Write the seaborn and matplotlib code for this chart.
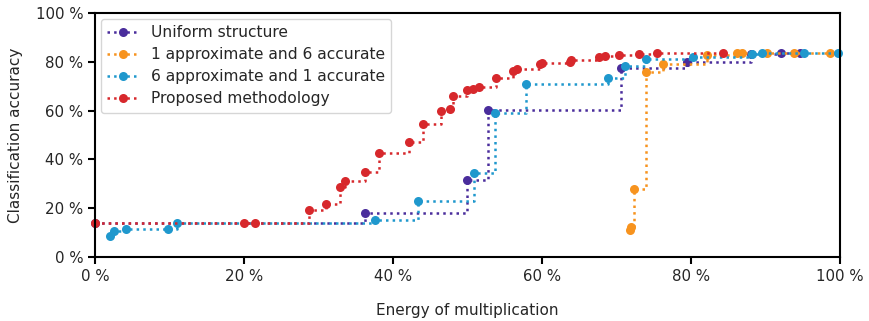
import numpy as np
import pandas as pd
import matplotlib
matplotlib.use("Agg")
import matplotlib.pyplot as plt
import seaborn as sns
from matplotlib.ticker import FuncFormatter

# data (energy %, accuracy %)
uniform_x = [0.0, 36.3, 49.9, 52.7, 70.6, 79.5, 88.0, 92.1, 94.7]
uniform_y = [13.8, 17.9, 31.6, 60.2, 77.3, 80.0, 83.2, 83.5, 83.5]

approx1_x = [71.8, 72.0, 72.4, 73.9, 76.2, 82.1, 86.2, 86.8, 90.2, 93.8, 98.7]
approx1_y = [11.1, 12.3, 27.8, 75.7, 79.1, 82.8, 83.5, 83.5, 83.5, 83.7, 83.7]

approx6_x = [2.0, 2.5, 4.1, 9.8, 11.0, 37.6, 43.3, 50.9, 53.7, 57.9, 68.9,
             71.2, 73.9, 80.3, 88.2, 89.5, 95.2, 99.8]
approx6_y = [8.7, 10.8, 11.5, 11.5, 13.8, 15.2, 22.9, 34.5, 58.9, 70.8, 73.2,
             78.4, 81.1, 82.1, 83.2, 83.5, 83.7, 83.7]

proposed_x = [0.0, 20.0, 21.5, 28.7, 31.0, 32.9, 33.6, 36.3, 38.1, 42.2, 44.0,
              46.5, 47.6, 48.0, 49.9, 50.7, 51.6, 53.8, 56.1, 56.7, 59.7, 60.0,
              63.7, 63.9, 67.6, 68.5, 70.4, 73.0, 75.4, 84.3]
proposed_y = [13.8, 13.8, 13.8, 19.3, 21.6, 28.6, 31.3, 34.7, 42.5, 47.2, 54.4,
              59.8, 60.5, 65.9, 68.4, 68.7, 69.6, 73.5, 76.4, 77.2, 79.0, 79.4,
              80.0, 80.7, 81.8, 82.2, 82.8, 83.2, 83.5, 83.5]

series_names = ["Uniform structure", "1 approximate and 6 accurate",
                "6 approximate and 1 accurate", "Proposed methodology"]
series_colors = ["#4a2d9c", "#f7931e", "#1f98cd", "#d7282c"]
ticks = [0, 20, 40, 60, 80, 100]

sns.set_style("ticks")
plt.rcParams["axes.edgecolor"] = "black"
plt.rcParams["xtick.color"] = "black"
plt.rcParams["ytick.color"] = "black"

fig = plt.figure(figsize=(8.69, 3.21), dpi=100)
ax = fig.add_axes([0.1093, 0.1994, 0.8573, 0.7601])

all_data = [(uniform_x, uniform_y), (approx1_x, approx1_y),
            (approx6_x, approx6_y), (proposed_x, proposed_y)]
for (xs, ys), name, col in zip(all_data, series_names, series_colors):
    df = pd.DataFrame({"energy": xs, "accuracy": ys})
    sns.lineplot(data=df, x="energy", y="accuracy", ax=ax, color=col,
                 label=name, linestyle=":", linewidth=1.8, marker="o",
                 markersize=6.5, markeredgewidth=0, drawstyle="steps-post",
                 clip_on=False, zorder=3)

ax.set_xlim(0, 100)
ax.set_ylim(0, 100)
ax.set_xticks(ticks)
ax.set_yticks(ticks)
pct = FuncFormatter(lambda v, p: f"{v:.0f} %")
ax.xaxis.set_major_formatter(pct)
ax.yaxis.set_major_formatter(pct)
ax.tick_params(labelsize=10.8, width=1.5, length=5, labelcolor="#262626")
for s in ax.spines.values():
    s.set_linewidth(1.5)
    s.set_zorder(4)

ax.set_xlabel("Energy of multiplication", fontsize=11, labelpad=14, color="#262626")
ax.set_ylabel("Classification accuracy", fontsize=11, labelpad=9, color="#262626")

leg = ax.legend(loc="upper left", fontsize=11.2, frameon=True,
                borderaxespad=0.4, handlelength=2.0, labelspacing=0.45)
for t in leg.get_texts():
    t.set_color("#262626")

fig.savefig("out.png", dpi=100)
